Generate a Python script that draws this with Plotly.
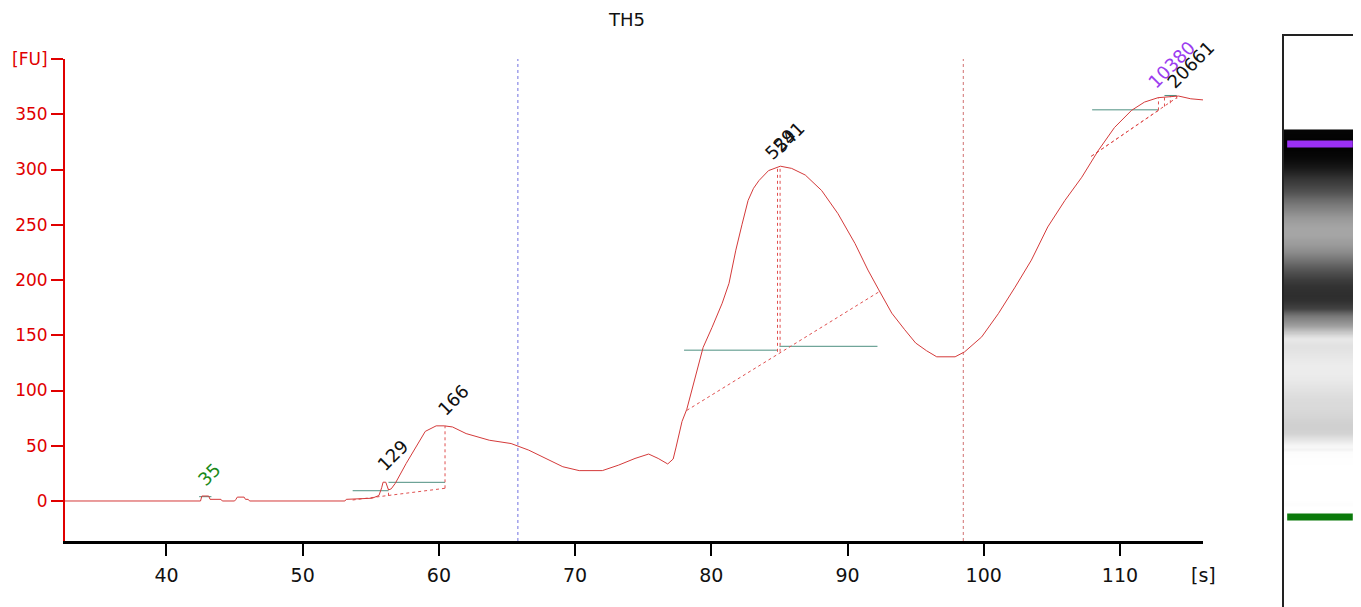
import plotly.graph_objects as go

# ---------------- data ----------------
time_s = [32.55, 42.5, 42.6, 43.1, 43.2, 44.0, 44.1, 45.0, 45.1, 45.2, 45.7, 45.8, 46.0, 46.1,
          53.1, 53.2, 55.1, 55.6, 55.8, 55.9, 56.1, 56.3, 56.5, 56.8, 57.6, 58.3, 59.0, 59.8,
          60.4, 61.0, 62.0, 63.7, 65.3, 66.6, 67.8, 69.1, 70.3, 72.0, 73.2, 74.4, 75.4, 76.1,
          76.8, 77.2, 77.4, 77.6, 77.85, 78.2, 78.8, 79.4, 80.05, 80.8, 81.3, 81.8, 82.25, 82.7,
          83.1, 83.5, 84.2, 85.07, 85.9, 86.9, 88.1, 89.3, 90.55, 91.5, 92.3, 93.25, 94.2, 95.0, 95.8,
          96.55, 97.9, 98.6, 99.85, 101.07, 102.3, 103.5, 104.7, 105.96, 107.2, 108.4, 109.6,
          110.85, 111.8, 112.8, 114.3, 115.2, 116.1]
fu = [0, 0, 4.5, 4.5, 1.5, 1.5, 0, 0, 1.5, 3.5, 3.5, 1.5, 1.5, 0,
      0, 1.5, 2.5, 5, 12, 17, 17, 10, 11, 16, 34, 49, 63, 68,
      68, 67, 61, 55, 52, 46, 38.5, 31, 27.5, 27.5, 32.5, 38.5, 42.5, 38.5,
      33.5, 38, 48, 60, 72, 83, 112, 139, 157, 179, 197, 227, 250, 272,
      283, 290, 299, 303, 301, 295, 281, 260, 233, 209, 191, 170, 155, 143, 136,
      130.5, 130.5, 135, 148.5, 169.5, 193.5, 218, 248, 272, 293, 317, 338,
      353.5, 361, 365, 366.5, 364, 363]

x_ticks = [40, 50, 60, 70, 80, 90, 100, 110]
y_ticks = [0, 50, 100, 150, 200, 250, 300, 350, 400]
y_ticktext = ["0", "50", "100", "150", "200", "250", "300", "350", "[FU]"]

peak_labels = ["35", "129", "166", "529", "541", "10380", "20661"]
label_x = [43.13, 56.6, 61.0, 85.03, 85.7, 113.8, 115.2]
label_y = [23.7, 40.9, 91.3, 323, 329, 395, 395]
label_colors = ["#1a8a1a", "#111111", "#111111", "#111111", "#111111", "#9b3df0", "#111111"]

# peak baselines (horizontal teal segments)
base_x0 = [42.4, 53.67, 56.3, 78.0, 85.0, 107.96, 113.27]
base_x1 = [43.3, 56.3, 60.45, 84.85, 92.2, 112.83, 114.17]
base_y = [3.9, 9.3, 16.9, 136.5, 140, 354, 367]

# dotted peak integration lines
dot_x0 = [53.67, 60.45, 56.3, 78.2, 84.86, 85.05, 107.9, 107.9, 112.83, 113.27, 113.7, 114.17]
dot_y0 = [0.9, 11.5, 4.7, 82, 135, 135, 312, 312, 353.5, 357, 360, 364]
dot_x1 = [60.45, 60.45, 56.3, 92.27, 84.86, 85.05, 112.83, 114.17, 112.83, 113.27, 113.7, 114.17]
dot_y1 = [11.5, 68, 11, 189, 303, 303, 353.5, 365, 365, 366, 366.5, 366.5]

# region markers (vertical dotted lines)
region_x = [65.8, 98.5]
region_colors = ["#6f6fe0", "#d07070"]

# gel markers
lower_marker_time = 43.1
upper_marker_time = 113.8

FONT = "DejaVu Sans"
RED = "#e00000"

fig = go.Figure()

for rx, rc in zip(region_x, region_colors):
    fig.add_trace(go.Scatter(x=[rx, rx], y=[-36.2, 400], mode="lines",
                             line=dict(color=rc, width=1, dash="dot"),
                             hoverinfo="skip", showlegend=False, xaxis="x", yaxis="y"))

bx, by = [], []
for a, b, c in zip(base_x0, base_x1, base_y):
    bx += [a, b, None]
    by += [c, c, None]
fig.add_trace(go.Scatter(x=bx, y=by, mode="lines", line=dict(color="#4d8f80", width=1),
                         hoverinfo="skip", showlegend=False, xaxis="x", yaxis="y"))

dx, dy = [], []
for a, b, c, d in zip(dot_x0, dot_y0, dot_x1, dot_y1):
    dx += [a, c, None]
    dy += [b, d, None]
fig.add_trace(go.Scatter(x=dx, y=dy, mode="lines", line=dict(color="#e05050", width=1, dash="dot"),
                         hoverinfo="skip", showlegend=False, xaxis="x", yaxis="y"))

fig.add_trace(go.Scatter(x=time_s, y=fu, mode="lines", line=dict(color="#d43a3a", width=1),
                         hoverinfo="skip", showlegend=False, xaxis="x", yaxis="y"))

# gel lane
fig.add_trace(go.Heatmap(x=[0, 1], y=time_s, z=[[v, v] for v in fu],
                         colorscale=[[0, "#ffffff"], [1, "#000000"]], zmin=0, zmax=370,
                         zsmooth="best", showscale=False, hoverinfo="skip",
                         xaxis="x2", yaxis="y2"))
fig.add_trace(go.Scatter(x=[-0.01, 1.01], y=[upper_marker_time] * 2, mode="lines",
                         line=dict(color="#9b30f5", width=7), hoverinfo="skip",
                         showlegend=False, xaxis="x2", yaxis="y2"))
fig.add_trace(go.Scatter(x=[-0.01, 1.01], y=[lower_marker_time] * 2, mode="lines",
                         line=dict(color="#0b7a0b", width=7), hoverinfo="skip",
                         showlegend=False, xaxis="x2", yaxis="y2"))

annotations = []
for t, x, y, c in zip(peak_labels, label_x, label_y, label_colors):
    annotations.append(dict(text=t, x=x, y=y, xref="x", yref="y", showarrow=False,
                            textangle=-45, xanchor="center", yanchor="middle",
                            font=dict(family=FONT, size=18, color=c)))
annotations.append(dict(text="TH5", x=0.435, y=1.0289, xref="paper", yref="paper",
                        showarrow=False, xanchor="center", yanchor="middle",
                        font=dict(family=FONT, size=18, color="#111111")))
annotations.append(dict(text="[s]", x=0.8815, y=0.056, xref="paper", yref="paper",
                        showarrow=False, xanchor="center", yanchor="middle",
                        font=dict(family=FONT, size=19, color="#111111")))

# the page body adds an 8 px offset, so the figure is sized to fit the window
fig.update_layout(
    width=1353, height=599,
    margin=dict(l=57, r=5, t=28, b=0, autoexpand=False),
    paper_bgcolor="white", plot_bgcolor="white",
    font=dict(family=FONT),
    xaxis=dict(domain=[0, 0.8815], range=[32.55, 116.1], anchor="y", automargin=False,
               showline=True, linecolor="#000000", linewidth=2.5,
               ticks="outside", ticklen=12, tickwidth=1.5, tickcolor="#000000",
               tickvals=x_ticks, tickfont=dict(family=FONT, size=19, color="#111111"),
               ticklabelstandoff=3, showgrid=False, zeroline=False),
    yaxis=dict(domain=[0.1156, 0.9597], range=[-36.2, 400], anchor="x", automargin=False,
               showline=True, linecolor=RED, linewidth=2,
               ticks="outside", ticklen=12, tickwidth=1.5, tickcolor=RED,
               tickvals=y_ticks, ticktext=y_ticktext,
               tickfont=dict(family=FONT, size=17, color=RED),
               ticklabelstandoff=0, showgrid=False, zeroline=False),
    xaxis2=dict(domain=[0.9442, 1.0], range=[-0.06, 1.06], anchor="y2", side="top",
                automargin=False,
                showline=True, linecolor="#222222", linewidth=2, mirror=False,
                showticklabels=False, ticks="", showgrid=False, zeroline=False),
    yaxis2=dict(domain=[0, 1], range=[26.04, 134.27], anchor="x2", automargin=False,
                showline=True, linecolor="#222222", linewidth=2, mirror=True,
                showticklabels=False, ticks="", showgrid=False, zeroline=False),
    annotations=annotations,
)

fig.write_html("out.html")
